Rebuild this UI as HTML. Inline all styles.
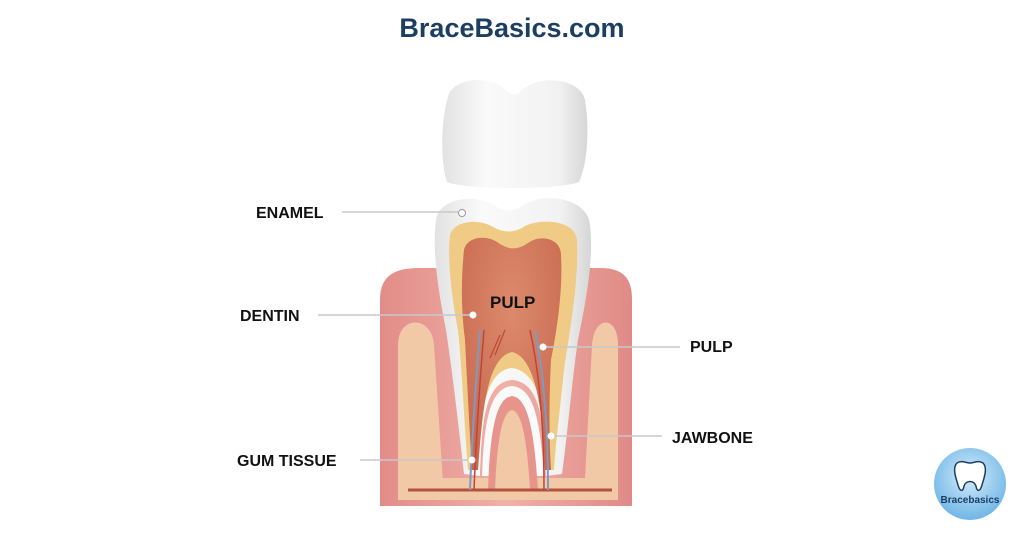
<!DOCTYPE html>
<html><head><meta charset="utf-8"><style>
html,body{margin:0;padding:0;background:#fff;}
body{width:1024px;height:538px;overflow:hidden;}
svg text{font-family:"Liberation Sans",sans-serif;font-weight:bold;}
</style></head><body>
<svg width="1024" height="538" viewBox="0 0 1024 538" xmlns="http://www.w3.org/2000/svg">
<defs>
<linearGradient id="gum" x1="0" x2="1"><stop offset="0" stop-color="#e28c88"/><stop offset="0.5" stop-color="#f0b0a8"/><stop offset="1" stop-color="#e08a86"/></linearGradient>
<radialGradient id="pulp" cx="0.5" cy="0.3" r="0.7"><stop offset="0" stop-color="#dc8a6c"/><stop offset="1" stop-color="#c8684f"/></radialGradient>
<linearGradient id="white" x1="0" x2="1"><stop offset="0" stop-color="#e2e2e2"/><stop offset="0.3" stop-color="#fafafa"/><stop offset="0.8" stop-color="#f2f2f2"/><stop offset="1" stop-color="#d6d6d6"/></linearGradient>
<radialGradient id="logo" cx="0.5" cy="0.4" r="0.6"><stop offset="0" stop-color="#d6ecfb"/><stop offset="1" stop-color="#6fb6e6"/></radialGradient>
</defs>
<rect width="1024" height="538" fill="#fff"/>
<text x="512" y="37" text-anchor="middle" font-size="27" fill="#1d3e63">BraceBasics.com</text>

<!-- crown cap -->
<path d="M448,97 C452,78 490,74 506,90 C512,96 516,96 522,90 C540,74 580,78 585,100 C590,130 587,165 579,182 C560,190 465,190 447,182 C440,160 441,120 448,97 Z" fill="url(#white)"/>

<!-- gum block -->
<path d="M380,506 L380,300 C380,275 395,268 420,268 L600,268 C625,268 632,280 632,300 L632,506 Z" fill="url(#gum)"/>
<!-- bone -->
<path d="M398,498 L398,345 C398,315 432,315 434,345 L444,498 Z" fill="#f1c9a6"/>
<path d="M584,498 L592,345 C594,315 618,315 618,345 L618,498 Z" fill="#f1c9a6"/>
<rect x="398" y="478" width="220" height="22" fill="#f1c9a6"/>

<!-- tooth outer white -->
<path d="M436,220 C440,196 478,194 495,206 C505,212 515,212 525,204 C545,192 588,198 590,225 C594,260 586,300 578,340 C572,380 568,430 562,474 L546,476 C544,420 540,382 512,380 C485,382 482,420 480,476 L464,474 C458,420 452,370 446,330 C438,290 432,250 436,220 Z" fill="url(#white)"/>
<!-- dentin -->
<path d="M450,235 C454,220 480,218 495,228 C505,233 515,233 525,226 C542,218 575,220 577,240 C579,280 570,330 564,370 C560,410 556,440 554,470 L548,470 C546,420 542,372 512,368 C484,370 480,420 476,470 L468,470 C464,420 462,370 458,330 C452,300 447,260 450,235 Z" fill="#efcb86"/>
<!-- pulp -->
<path d="M464,250 C467,236 488,234 500,244 C510,250 518,250 528,243 C540,234 561,238 561,255 C563,290 557,330 551,360 C549,400 549,440 551,470 L545,470 C543,420 538,358 512,352 C485,358 482,420 478,470 L472,470 C469,420 467,380 465,340 C461,310 461,280 464,250 Z" fill="url(#pulp)"/>
<!-- inner root arch -->
<path d="M482,476 C484,420 490,388 512,386 C534,388 540,420 544,476 Z" fill="#fafafa"/>
<path d="M488,490 C490,430 496,398 512,396 C528,398 534,430 538,490 Z" fill="#e6948c"/>
<path d="M495,490 C497,440 502,412 512,410 C522,412 527,440 530,490 Z" fill="#f1c9a6"/>
<!-- vessels -->
<line x1="408" y1="490" x2="612" y2="490" stroke="#b5523f" stroke-width="3"/>
<path d="M480,330 C476,380 472,440 470,490" stroke="#7f9ac0" stroke-width="2" fill="none"/>
<path d="M484,330 C480,380 476,440 474,490" stroke="#c0443a" stroke-width="1.5" fill="none"/>
<path d="M535,330 C545,380 548,440 548,490" stroke="#7f9ac0" stroke-width="2" fill="none"/>
<path d="M530,330 C541,380 544,440 544,490" stroke="#c0443a" stroke-width="1.5" fill="none"/>
<path d="M505,330 L495,355 M500,335 L490,358" stroke="#c0443a" stroke-width="1.2" fill="none"/>

<!-- labels -->
<g stroke="#c8c8c8" stroke-width="1.5">
<line x1="342" y1="212" x2="458" y2="212"/>
<line x1="318" y1="315" x2="470" y2="315"/>
<line x1="546" y1="347" x2="680" y2="347"/>
<line x1="553" y1="436" x2="662" y2="436"/>
<line x1="360" y1="460" x2="470" y2="460"/>
</g>
<circle cx="462" cy="213" r="3.5" fill="#fff" stroke="#999" stroke-width="1"/>
<circle cx="473" cy="315" r="3.5" fill="#fff"/>
<circle cx="543" cy="347" r="3.5" fill="#fff"/>
<circle cx="551" cy="436" r="3.5" fill="#fff"/>
<circle cx="472" cy="460" r="3.5" fill="#fff"/>
<g font-size="16" fill="#111">
<text x="256" y="218">ENAMEL</text>
<text x="240" y="321">DENTIN</text>
<text x="690" y="352">PULP</text>
<text x="672" y="443">JAWBONE</text>
<text x="237" y="466">GUM TISSUE</text>
<text x="490" y="308" font-size="17">PULP</text>
</g>

<!-- logo -->
<circle cx="970" cy="484" r="36" fill="url(#logo)"/>
<path d="M957,463 C962,460 966,463 970,463 C974,463 978,460 983,463 C988,468 984,478 982,485 C980,492 977,492 976,486 C974,480 966,480 964,486 C963,492 960,492 958,485 C956,478 952,468 957,463 Z" fill="#fff" stroke="#1d3e63" stroke-width="1.5"/>
<text x="970" y="503" text-anchor="middle" font-size="10" fill="#1d3e63">Bracebasics</text>
</svg>
</body></html>
